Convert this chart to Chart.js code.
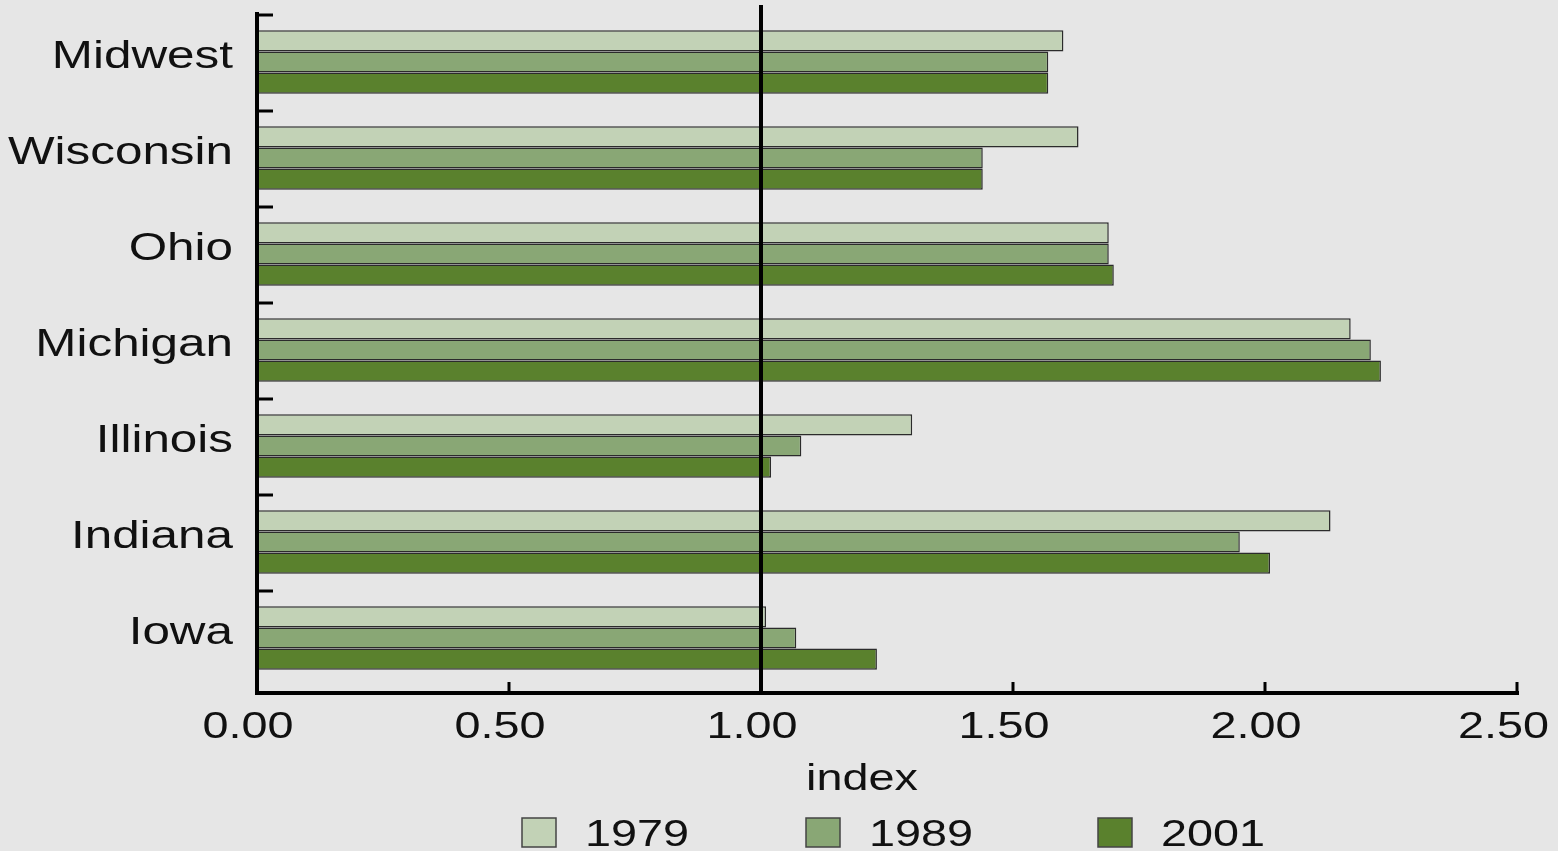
<!DOCTYPE html>
<html>
<head>
<meta charset="utf-8">
<script src="https://cdn.jsdelivr.net/npm/chart.js@4.4.1/dist/chart.umd.min.js"></script>
<style>
  html, body { margin: 0; padding: 0; background: #e6e6e6; overflow: hidden; }
  #wrap { width: 1558px; height: 851px; }
</style>
</head>
<body>
<div id="wrap"><canvas id="c" width="1558" height="851"></canvas></div>
<script>
const categories = ['Midwest', 'Wisconsin', 'Ohio', 'Michigan', 'Illinois', 'Indiana', 'Iowa'];
const seriesLabels = ['1979', '1989', '2001'];
const values1979 = [1.60, 1.63, 1.69, 2.17, 1.30, 2.13, 1.01];
const values1989 = [1.57, 1.44, 1.69, 2.21, 1.08, 1.95, 1.07];
const values2001 = [1.57, 1.44, 1.70, 2.23, 1.02, 2.01, 1.23];
const xTickValues = [0, 0.5, 1.0, 1.5, 2.0, 2.5];
const xTickLabels = ['0.00', '0.50', '1.00', '1.50', '2.00', '2.50'];
const referenceValue = 1.0;
const axisTitle = 'index';

const colors = ['#c2d2b6', '#89a775', '#5a812d'];
const FONT = '"Liberation Sans", Arial, sans-serif';
const STRETCH = 1.3;

function stretchedText(ctx, text, x, y, size, align, maxRight) {
  ctx.save();
  ctx.font = size + 'px ' + FONT;
  ctx.textBaseline = 'alphabetic';
  const w = ctx.measureText(text).width * STRETCH;
  let x0 = x;
  if (align === 'right') x0 = x - w;
  else if (align === 'center') x0 = x - w / 2;
  if (maxRight !== undefined && x0 + w > maxRight) x0 = maxRight - w;
  ctx.translate(x0, y);
  ctx.scale(STRETCH, 1);
  ctx.textAlign = 'left';
  ctx.fillStyle = '#111';
  ctx.fillText(text, 0, 0);
  ctx.restore();
  return w;
}

const decor = {
  id: 'decor',
  beforeDraw(chart) {
    const ctx = chart.ctx;
    ctx.save();
    ctx.fillStyle = '#e6e6e6';
    ctx.fillRect(0, 0, chart.width, chart.height);
    ctx.restore();
  },
  afterDatasetsDraw(chart) {
    const ctx = chart.ctx;
    const xs = chart.scales.x, ys = chart.scales.y;
    const area = chart.chartArea;
    const axisY = area.bottom + 7;
    const x0 = xs.getPixelForValue(0);
    ctx.save();
    ctx.strokeStyle = '#000';
    const xr = xs.getPixelForValue(referenceValue);
    ctx.lineWidth = 4;
    ctx.beginPath(); ctx.moveTo(xr, 5); ctx.lineTo(xr, axisY); ctx.stroke();
    ctx.beginPath(); ctx.moveTo(x0, 12); ctx.lineTo(x0, axisY + 2); ctx.stroke();
    ctx.beginPath(); ctx.moveTo(x0 - 2, axisY); ctx.lineTo(xs.getPixelForValue(xTickValues[xTickValues.length - 1]) + 2, axisY); ctx.stroke();
    ctx.lineWidth = 3;
    xTickValues.forEach(v => {
      const px = xs.getPixelForValue(v);
      ctx.beginPath(); ctx.moveTo(px, axisY - 11); ctx.lineTo(px, axisY); ctx.stroke();
    });
    const band = (ys.getPixelForValue(1) - ys.getPixelForValue(0));
    categories.forEach((c, i) => {
      const py = ys.getPixelForValue(i) - band / 2 + 1;
      ctx.beginPath(); ctx.moveTo(x0, py); ctx.lineTo(x0 + 16, py); ctx.stroke();
    });
    ctx.restore();
  },
  afterDraw(chart) {
    const ctx = chart.ctx;
    const xs = chart.scales.x, ys = chart.scales.y;
    categories.forEach((c, i) => {
      const py = ys.getPixelForValue(i);
      stretchedText(ctx, c, 233, py + 6, 38, 'right');
    });
    xTickValues.forEach((v, i) => {
      stretchedText(ctx, xTickLabels[i], xs.getPixelForValue(v) - 9, 738, 36, 'center', 1549);
    });
    stretchedText(ctx, axisTitle, 862, 790, 36, 'center');
    const boxX = [522, 806, 1098];
    chart.data.datasets.forEach((ds, i) => {
      ctx.save();
      ctx.fillStyle = ds.backgroundColor;
      ctx.strokeStyle = '#444';
      ctx.lineWidth = 1.5;
      ctx.fillRect(boxX[i], 818, 34, 29);
      ctx.strokeRect(boxX[i], 818, 34, 29);
      ctx.restore();
      stretchedText(ctx, ds.label, boxX[i] + 63, 846, 36, 'left');
    });
  }
};

new Chart(document.getElementById('c'), {
  type: 'bar',
  data: {
    labels: categories,
    datasets: [
      { label: seriesLabels[0], data: values1979, backgroundColor: colors[0] },
      { label: seriesLabels[1], data: values1989, backgroundColor: colors[1] },
      { label: seriesLabels[2], data: values2001, backgroundColor: colors[2] }
    ].map(d => Object.assign(d, {
      borderColor: '#2b2b2b', borderWidth: 1.5, borderSkipped: 'start',
      categoryPercentage: 0.66, barPercentage: 1.0
    }))
  },
  options: {
    indexAxis: 'y',
    responsive: false,
    animation: false,
    devicePixelRatio: 1,
    layout: { padding: { left: 257, right: 41, top: 14, bottom: 165 } },
    plugins: { legend: { display: false }, tooltip: { enabled: false } },
    scales: {
      x: { type: 'linear', min: xTickValues[0], max: xTickValues[xTickValues.length - 1], display: false,
           ticks: { stepSize: 0.5 } },
      y: { type: 'category', display: false }
    }
  },
  plugins: [decor]
});
</script>
</body>
</html>
